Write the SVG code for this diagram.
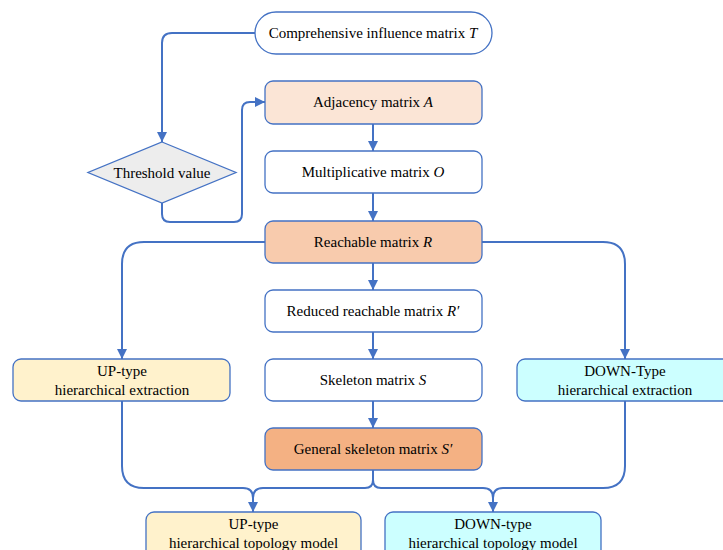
<svg xmlns="http://www.w3.org/2000/svg" width="723" height="550" viewBox="0 0 723 550">
  <defs>
    <marker id="arrow" viewBox="0 0 10 10" refX="10" refY="5" markerWidth="10" markerHeight="10" markerUnits="userSpaceOnUse" orient="auto">
      <path d="M0,0 L10,5 L0,10 Z" fill="#4472c4"/>
    </marker>
    <style>
      .box { stroke: #4472c4; stroke-width: 1.3; }
      .lbl { font-family: "Liberation Serif", "Times New Roman", serif; font-size: 15px; fill: #000; text-anchor: middle; }
      .it { font-style: italic; }
      .link { fill: none; stroke: #4472c4; stroke-width: 2; }
      .tip { marker-end: url(#arrow); }
    </style>
  </defs>
  <rect width="723" height="550" fill="#ffffff"/>

  <!-- connectors -->
  <g id="connectors">
    <path class="link tip" d="M255,33 H172 Q162,33 162,43 V142"/>
    <path class="link tip" d="M162,203 V214 Q162,222 170,222 H234 Q242,222 242,214 V110 Q242,102 250,102 H265"/>
    <path class="link tip" d="M373,124 V151"/>
    <path class="link tip" d="M373,193 V221"/>
    <path class="link tip" d="M265,242 H144 Q122,242 122,264 V359"/>
    <path class="link tip" d="M482,242 H603 Q625,242 625,264 V359"/>
    <path class="link tip" d="M373,263 V290"/>
    <path class="link tip" d="M373,332 V359"/>
    <path class="link tip" d="M373,401 V428"/>
    <path class="link tip" d="M122,401 V466 Q122,488 144,488 H243 Q253,488 253,498 V512"/>
    <path class="link" d="M373,470 V480 Q373,488 365,488 H263 Q253,488 253,498"/>
    <path class="link tip" d="M625,401 V466 Q625,488 603,488 H503 Q493,488 493,498 V512"/>
    <path class="link" d="M373,470 V480 Q373,488 381,488 H483 Q493,488 493,498"/>
  </g>

  <g id="node-T">
    <rect class="box" x="255" y="12" width="237" height="42" rx="21" fill="#ffffff"/>
    <text class="lbl" x="373" y="38">Comprehensive influence matrix <tspan class="it">T</tspan></text>
  </g>

  <g id="node-A">
    <rect class="box" x="265" y="81" width="217" height="43" rx="8" fill="#fbe5d6"/>
    <text class="lbl" x="373" y="107">Adjacency matrix <tspan class="it">A</tspan></text>
  </g>

  <g id="node-threshold">
    <polygon class="box" points="162,142 236,172.5 162,203 88,172.5" fill="#ededed"/>
    <text class="lbl" x="162" y="177.5">Threshold value</text>
  </g>

  <g id="node-O">
    <rect class="box" x="265" y="151" width="217" height="42" rx="8" fill="#ffffff"/>
    <text class="lbl" x="373" y="177">Multiplicative matrix <tspan class="it">O</tspan></text>
  </g>

  <g id="node-R">
    <rect class="box" x="265" y="221" width="217" height="42" rx="8" fill="#f8cbad"/>
    <text class="lbl" x="373" y="247">Reachable matrix <tspan class="it">R</tspan></text>
  </g>

  <g id="node-Rp">
    <rect class="box" x="265" y="290" width="217" height="42" rx="8" fill="#ffffff"/>
    <text class="lbl" x="373" y="316">Reduced reachable matrix <tspan class="it">R′</tspan></text>
  </g>

  <g id="node-S">
    <rect class="box" x="265" y="359" width="217" height="42" rx="8" fill="#ffffff"/>
    <text class="lbl" x="373" y="385">Skeleton matrix <tspan class="it">S</tspan></text>
  </g>

  <g id="node-Sp">
    <rect class="box" x="265" y="428" width="217" height="42" rx="8" fill="#f4b183"/>
    <text class="lbl" x="373" y="454">General skeleton matrix <tspan class="it">S′</tspan></text>
  </g>

  <g id="node-up-extract">
    <rect class="box" x="13" y="359" width="217" height="42" rx="8" fill="#fff2cc"/>
    <text class="lbl" x="122" y="376">UP-type</text>
    <text class="lbl" x="122" y="395">hierarchical extraction</text>
  </g>

  <g id="node-down-extract">
    <rect class="box" x="517" y="359" width="217" height="42" rx="8" fill="#ccffff"/>
    <text class="lbl" x="625" y="376">DOWN-Type</text>
    <text class="lbl" x="625" y="395">hierarchical extraction</text>
  </g>

  <g id="node-up-model">
    <rect class="box" x="146" y="512" width="215" height="46" rx="8" fill="#fff2cc"/>
    <text class="lbl" x="253.5" y="529">UP-type</text>
    <text class="lbl" x="253.5" y="548">hierarchical topology model</text>
  </g>

  <g id="node-down-model">
    <rect class="box" x="385" y="512" width="216" height="46" rx="8" fill="#ccffff"/>
    <text class="lbl" x="493" y="529">DOWN-type</text>
    <text class="lbl" x="493" y="548">hierarchical topology model</text>
  </g>
</svg>
